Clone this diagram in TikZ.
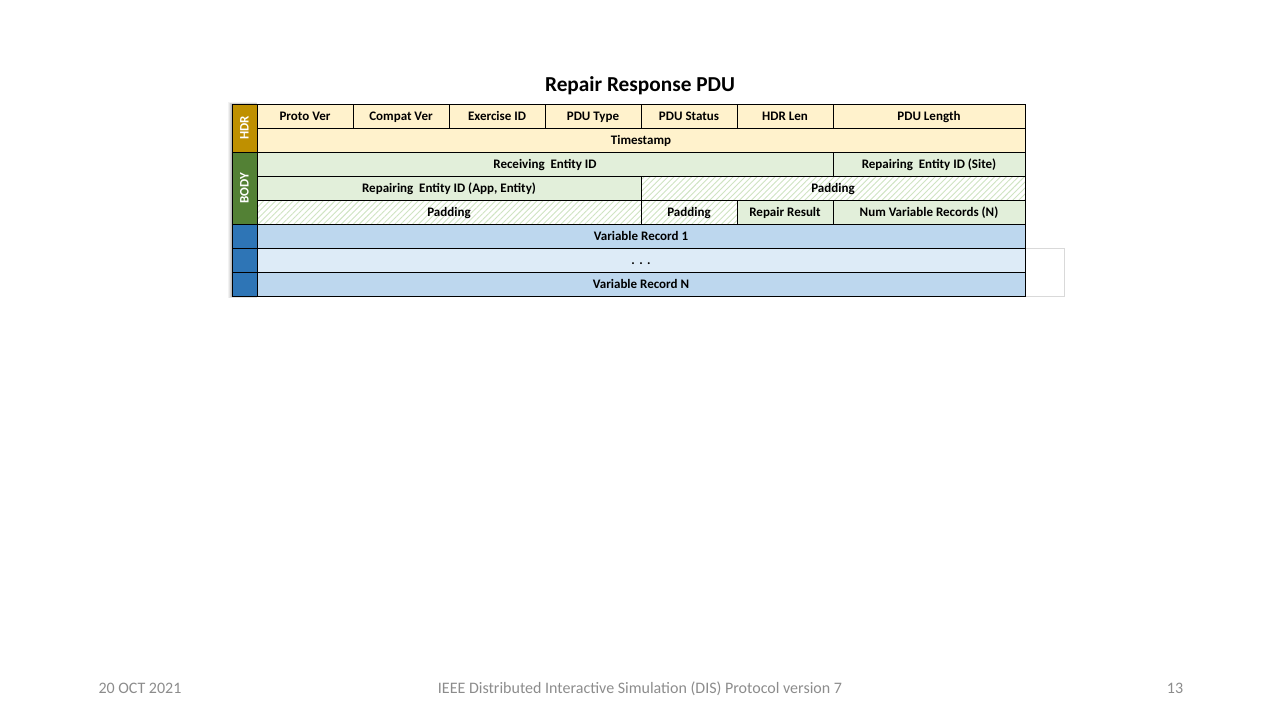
\documentclass[tikz,border=0pt]{standalone}
\usepackage{fontspec}
\setmainfont{Carlito}
\usetikzlibrary{positioning,patterns.meta}
\definecolor{hdrbar}{HTML}{BF9000}
\definecolor{hdrcell}{HTML}{FFF2CC}
\definecolor{bodybar}{HTML}{538135}
\definecolor{bodycell}{HTML}{E2EFDA}
\definecolor{recbar}{HTML}{2E75B6}
\definecolor{reccell}{HTML}{BDD7EE}
\definecolor{dotcell}{HTML}{DDEBF7}
\definecolor{hatch}{HTML}{CFE4C2}
\definecolor{foot}{HTML}{8C8C8C}

\begin{document}
\begin{tikzpicture}[x=1pt,y=-1pt,
  cell/.style={draw=black,line width=0.9pt,inner sep=0pt,outer sep=0pt,
    minimum height=24pt,anchor=north west,text height=9.4pt,text depth=1pt,
    font=\fontsize{13}{15}\selectfont\bfseries},
  span/.style={minimum width=#1*96pt},
  hdr/.style={cell,fill=hdrcell},
  body/.style={cell,fill=bodycell},
  pad/.style={cell,preaction={fill=white},
    pattern={Lines[angle=45,distance=4.2pt,line width=0.9pt]},pattern color=hatch},
  rec/.style={cell,fill=reccell},
  bar/.style={draw=black,line width=0.9pt,inner sep=0pt,outer sep=0pt,
    minimum width=25pt,anchor=north west},
  barlabel/.style={rotate=90,text=white,text height=9.4pt,text depth=1pt,
    font=\fontsize{13}{15}\selectfont\bfseries},
  foottext/.style={text=foot,anchor=base,font=\fontsize{16}{19}\selectfont}]
\useasboundingbox (0,0) rectangle (1280,720);

% Title
\node[anchor=base] (title) at (640,91) {\fontsize{21.3}{25}\selectfont\bfseries Repair Response PDU};

% Shadow behind the side bars
\foreach \s/\o in {4/0.05,3/0.06,2/0.08,1/0.1}
  \fill[black,opacity=\o] (232-\s,104-\s/2) rectangle (257,296+\s/2);

% Grey box beside the repeated records
\draw[black!15,line width=0.9pt] (1025,248.5) rectangle (1064.5,296.5);

% Side bars
\node[bar,fill=hdrbar,minimum height=48pt] (hdrbar) at (232,104) {};
\node[barlabel] at (hdrbar.center) {HDR};
\node[bar,fill=bodybar,minimum height=72pt,below=0pt of hdrbar.south west,anchor=north west] (bodybar) {};
\node[barlabel] at (bodybar.center) {BODY};
\node[bar,fill=recbar,minimum height=24pt,below=0pt of bodybar.south west,anchor=north west] (recbar1) {};
\node[bar,fill=recbar,minimum height=24pt,below=0pt of recbar1.south west,anchor=north west] (recbar2) {};
\node[bar,fill=recbar,minimum height=24pt,below=0pt of recbar2.south west,anchor=north west] (recbar3) {};

% Header row 1
\node[hdr,span=1] (protover) at (257,104) {Proto Ver};
\node[hdr,span=1,right=0pt of protover.north east,anchor=north west] (compatver) {Compat Ver};
\node[hdr,span=1,right=0pt of compatver.north east,anchor=north west] (exerciseid) {Exercise ID};
\node[hdr,span=1,right=0pt of exerciseid.north east,anchor=north west] (pdutype) {PDU Type};
\node[hdr,span=1,right=0pt of pdutype.north east,anchor=north west] (pdustatus) {PDU Status};
\node[hdr,span=1,right=0pt of pdustatus.north east,anchor=north west] (hdrlen) {HDR Len};
\node[hdr,span=2,right=0pt of hdrlen.north east,anchor=north west] (pdulength) {PDU Length};

% Header row 2
\node[hdr,span=8,below=0pt of protover.south west,anchor=north west] (timestamp) {Timestamp};

% Body
\node[body,span=6,below=0pt of timestamp.south west,anchor=north west] (receiving) {Receiving\ \ Entity ID};
\node[body,span=2,right=0pt of receiving.north east,anchor=north west] (repsite) {Repairing\ \ Entity ID (Site)};
\node[body,span=4,below=0pt of receiving.south west,anchor=north west] (repapp) {Repairing\ \ Entity ID (App, Entity)};
\node[pad,span=4,right=0pt of repapp.north east,anchor=north west] (padA) {Padding};
\node[pad,span=4,below=0pt of repapp.south west,anchor=north west] (padB) {Padding};
\node[pad,span=1,right=0pt of padB.north east,anchor=north west] (padC) {Padding};
\node[body,span=1,right=0pt of padC.north east,anchor=north west] (result) {Repair Result};
\node[body,span=2,right=0pt of result.north east,anchor=north west] (numrec) {Num Variable Records (N)};

% Variable records
\node[rec,span=8,below=0pt of padB.south west,anchor=north west] (varrec1) {Variable Record 1};
\node[cell,fill=dotcell,span=8,below=0pt of varrec1.south west,anchor=north west] (varrecdots) {.\,\,.\,\,.};
\node[rec,span=8,below=0pt of varrecdots.south west,anchor=north west] (varrecN) {Variable Record N};

% Footer
\node[foottext,anchor=base west] (date) at (95,693) {20 OCT 2021};
\node[foottext] (name) at (640,693) {IEEE Distributed Interactive Simulation (DIS) Protocol version 7};
\node[foottext] (page) at (1175,693) {13};

\end{tikzpicture}
\end{document}
